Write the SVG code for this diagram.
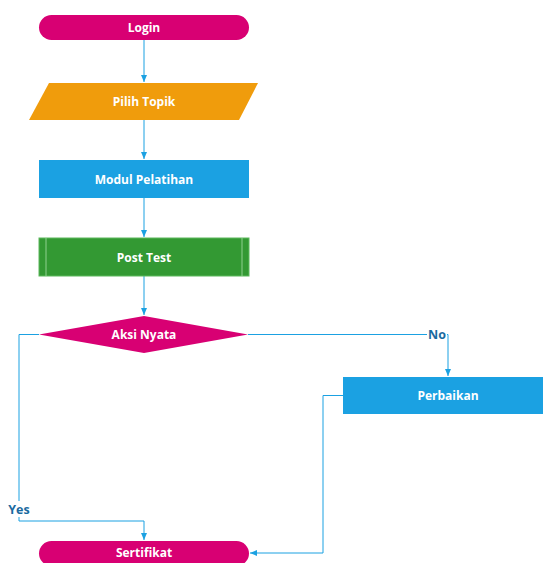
<svg xmlns="http://www.w3.org/2000/svg" width="543" height="563" viewBox="0 0 543 563">
<style>
.t{font-family:"Open Sans","Noto Sans",sans-serif;font-weight:bold;font-size:12px;fill:#fff;text-anchor:middle;dominant-baseline:central}
.l{font-family:"Open Sans","Noto Sans",sans-serif;font-weight:bold;font-size:12.5px;fill:#1a6aa0;text-anchor:middle;dominant-baseline:central}
.c{fill:none;stroke:#1ba1e2;stroke-width:1}
</style>
<defs>
<marker id="a" markerWidth="8" markerHeight="8" refX="7" refY="4" orient="auto" markerUnits="userSpaceOnUse">
<path d="M0,1 L7,4 L0,7 Z" fill="#1ba1e2"/>
</marker>
</defs>
<rect width="543" height="563" fill="#fff"/>
<g id="connectors">
<path class="c" d="M144,40 V82" marker-end="url(#a)"/>
<path class="c" d="M144,120 V159" marker-end="url(#a)"/>
<path class="c" d="M144,198 V237" marker-end="url(#a)"/>
<path class="c" d="M144,276 V315" marker-end="url(#a)"/>
<path class="c" d="M248,334.5 H448 V376" marker-end="url(#a)"/>
<path class="c" d="M39,334.5 H19 V521 H144 V540" marker-end="url(#a)"/>
<path class="c" d="M343,395.5 H323 V553 H250" marker-end="url(#a)"/>
</g>
<g id="no-label"><rect x="427" y="326" width="20" height="16" fill="#fff"/><text class="l" x="437" y="334">No</text></g>
<g id="yes-label"><rect x="8" y="501" width="23" height="16" fill="#fff"/><text class="l" x="19" y="509">Yes</text></g>
<g id="login"><rect x="39" y="15" width="210" height="25" rx="12.5" fill="#d80073"/><text class="t" x="144" y="27">Login</text></g>
<g id="pilih-topik"><polygon points="49,83 258,83 239,120 29,120" fill="#f09c0c"/><text class="t" x="144" y="101">Pilih Topik</text></g>
<g id="modul-pelatihan"><rect x="39" y="160" width="210" height="38" fill="#1ba1e2"/><text class="t" x="144" y="179">Modul Pelatihan</text></g>
<g id="post-test"><rect x="39" y="238" width="210" height="38" fill="#339933" stroke="#5cb85c" stroke-width="1"/><path d="M46,238 V276 M242,238 V276" stroke="#8fd08f" stroke-width="1"/><text class="t" x="144" y="257">Post Test</text></g>
<g id="aksi-nyata"><polygon points="144,316 248,334.5 144,353 39,334.5" fill="#d80073"/><text class="t" x="144" y="334">Aksi Nyata</text></g>
<g id="perbaikan"><rect x="343" y="377" width="210" height="37" fill="#1ba1e2"/><text class="t" x="448" y="395">Perbaikan</text></g>
<g id="sertifikat"><rect x="39" y="541" width="210" height="25" rx="12.5" fill="#d80073"/><text class="t" x="144" y="552">Sertifikat</text></g>
</svg>
